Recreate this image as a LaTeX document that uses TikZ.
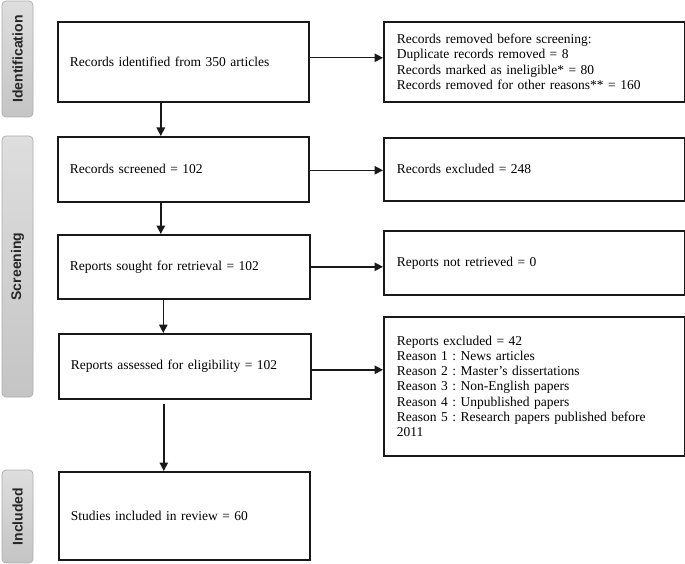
\documentclass[tikz,border=0pt]{standalone}
\usepackage{fontspec}
\setmainfont{Liberation Serif}
\setsansfont{Liberation Sans}
\usetikzlibrary{arrows.meta,calc}
\begin{document}
\frenchspacing
\begin{tikzpicture}[x=1pt,y=-1pt,
  box/.style={draw=black!90, line width=1.6pt, anchor=north west, inner ysep=0pt,
    align=left, font=\fontsize{13.5}{15.1}\selectfont},
  lbox/.style={box, inner xsep=12pt, minimum width=#1, text width=#1-24pt},
  rbox/.style={box, inner xsep=13pt, minimum width=301pt, text width=275pt},
  arr/.style={line width=1.4pt, draw=black!90, -{Triangle[length=8.5pt,width=8.5pt]}},
  side/.style={rounded corners=4pt, draw=black!32, line width=0.7pt, rotate=90,
    top color=black!13, bottom color=black!23, minimum height=31pt,
    text=black!85, font=\sffamily\bfseries\fontsize{14}{16}\selectfont, inner sep=0pt}]
\useasboundingbox (0,0) rectangle (685,564);

% side bars
\node[side, minimum width=116pt] (sid) at (17.5,59) {Identification};
\node[side, minimum width=261pt] (ssc) at (17.5,266.5) {Screening};
\node[side, minimum width=93pt] (sin) at (17.5,516.5) {Included};

% left column
\node[lbox=251pt, minimum height=80pt] (b1) at (57,21) {Records identified from 350 articles};
\node[lbox=251pt, minimum height=65pt] (b2) at (57,136) {Records screened = 102};
\node[lbox=252pt, minimum height=64pt] (b3) at (57,234) {Reports sought for retrieval = 102};
\node[lbox=252pt, minimum height=65pt] (b4) at (58,333) {Reports assessed for eligibility = 102};
\node[lbox=251pt, minimum height=88pt] (b5) at (58,471) {Studies included in review = 60};

% right column
\node[rbox, minimum height=80pt] (r1) at (383,21) {Records removed before screening:\\
Duplicate records removed = 8\\
Records marked as ineligible* = 80\\
Records removed for other reasons** = 160};
\node[rbox, minimum height=63pt] (r2) at (383,137) {Records excluded = 248};
\node[rbox, minimum height=64pt] (r3) at (383,230) {Reports not retrieved = 0};
\node[rbox, minimum height=139pt] (r4) at (383,316) {Reports excluded = 42\\
Reason 1 : News articles\\
Reason 2 : Master’s dissertations\\
Reason 3 : Non-English papers\\
Reason 4 : Unpublished papers\\
Reason 5 : Research papers published before\\
2011};

% vertical arrows
\draw[arr] ([xshift=-22.5pt]b1.south) -- ([xshift=-22.5pt]b1.south |- b2.north);
\draw[arr] ([xshift=-22.5pt]b2.south) -- ([xshift=-22.5pt]b2.south |- b3.north);
\draw[arr] ([xshift=-20.5pt]b3.south) -- ([xshift=-20.5pt]b3.south |- b4.north);
\draw[arr] ([xshift=-21pt,yshift=-4pt]b4.south) -- ([xshift=-21pt]b4.south |- b5.north);

% horizontal arrows
\draw[arr] ([yshift=4pt]b1.east) -- ([yshift=4pt]b1.east -| r1.west);
\draw[arr] ([yshift=-1pt]b2.east) -- ([yshift=-1pt]b2.east -| r2.west);
\draw[arr] (b3.east) -- (b3.east -| r3.west);
\draw[arr] ([yshift=-3.5pt]b4.east) -- ([yshift=-3.5pt]b4.east -| r4.west);
\end{tikzpicture}
\end{document}
